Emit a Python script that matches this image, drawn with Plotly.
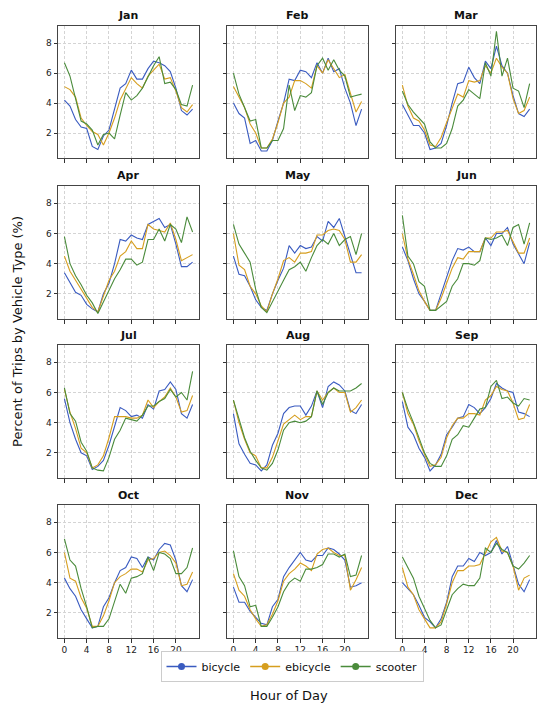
import plotly.graph_objects as go
from plotly.subplots import make_subplots

# hours and months
hours = list(range(24))
months = ["Jan", "Feb", "Mar", "Apr", "May", "Jun",
          "Jul", "Aug", "Sep", "Oct", "Nov", "Dec"]
vehicles = ["bicycle", "ebicycle", "scooter"]

# percent of trips per hour
bicycle = {
    "Jan": [4.2, 3.8, 2.9, 2.4, 2.3, 1.1, 0.9, 1.8, 2.2, 3.6, 5.0, 5.3, 6.2, 5.6, 5.6, 6.3, 6.8, 6.7, 6.5, 6.1, 5.0, 3.5, 3.2, 3.6],
    "Feb": [4.0, 3.3, 3.0, 1.3, 1.5, 0.8, 0.8, 1.5, 2.8, 4.0, 5.6, 5.5, 6.2, 6.1, 5.7, 6.7, 6.0, 7.0, 6.1, 6.3, 5.0, 4.0, 2.5, 3.6],
    "Mar": [3.9, 3.2, 2.5, 2.5, 2.0, 0.9, 1.0, 1.3, 2.5, 4.0, 5.3, 5.4, 6.4, 5.7, 5.3, 6.8, 6.3, 7.8, 6.5, 6.0, 4.5, 3.3, 3.1, 3.6],
    "Apr": [3.4, 2.7, 2.1, 1.9, 1.3, 1.0, 0.8, 2.0, 2.7, 4.0, 5.6, 5.5, 5.9, 5.7, 5.6, 6.6, 6.8, 7.0, 6.4, 6.6, 5.3, 3.8, 3.8, 4.1],
    "May": [4.5, 3.3, 3.2, 2.5, 1.6, 1.1, 0.9, 2.0, 2.9, 3.7, 5.2, 4.7, 5.2, 5.0, 5.1, 5.8, 5.5, 6.8, 6.4, 7.0, 5.8, 4.6, 3.4, 3.4],
    "Jun": [5.1, 4.2, 3.0, 2.0, 1.5, 0.9, 0.9, 2.0, 3.0, 4.2, 5.0, 4.9, 5.1, 4.8, 4.8, 5.7, 5.2, 6.0, 6.0, 6.4, 5.3, 4.6, 4.0, 5.4],
    "Jul": [5.6, 4.0, 2.9, 2.0, 1.8, 0.9, 1.1, 1.5, 2.5, 3.8, 5.0, 4.8, 4.4, 4.5, 4.3, 5.2, 4.9, 6.1, 6.2, 6.7, 6.2, 4.6, 4.3, 5.2],
    "Aug": [4.6, 2.6, 1.9, 1.3, 1.2, 0.8, 1.2, 2.5, 3.3, 4.6, 5.0, 5.1, 5.1, 4.5, 5.1, 6.1, 5.0, 6.4, 6.7, 6.5, 6.1, 4.8, 4.6, 5.2],
    "Sep": [5.4, 3.7, 3.2, 2.3, 1.7, 0.8, 1.2, 1.9, 3.2, 3.7, 4.3, 4.4, 5.2, 5.0, 4.6, 5.0, 5.6, 6.6, 6.3, 6.1, 6.0, 4.7, 4.6, 4.4],
    "Oct": [4.3, 3.6, 3.1, 2.2, 1.6, 1.0, 1.1, 2.4, 3.0, 4.0, 4.8, 5.0, 5.7, 5.6, 5.0, 5.7, 5.5, 6.2, 6.6, 6.5, 5.5, 3.8, 3.4, 4.2],
    "Nov": [3.7, 2.7, 2.7, 2.1, 1.7, 1.3, 1.2, 2.4, 2.9, 4.4, 5.0, 5.5, 6.0, 5.5, 5.4, 5.8, 5.8, 6.3, 6.2, 5.9, 5.5, 3.7, 3.8, 4.0],
    "Dec": [4.0, 3.6, 3.2, 2.5, 1.7, 1.4, 1.0, 1.6, 2.7, 4.4, 5.1, 5.1, 5.6, 5.4, 6.0, 5.8, 6.0, 6.8, 5.9, 6.4, 5.2, 3.9, 3.4, 4.2],
}
ebicycle = {
    "Jan": [5.1, 4.9, 4.4, 3.0, 2.5, 2.1, 1.9, 1.2, 2.0, 3.0, 4.2, 5.0, 5.7, 5.3, 5.0, 5.8, 6.2, 6.6, 5.6, 5.7, 4.8, 3.7, 3.4, 3.9],
    "Feb": [5.1, 4.4, 3.7, 2.6, 2.0, 1.0, 1.0, 1.6, 2.7, 4.0, 4.4, 5.5, 5.5, 5.3, 5.0, 6.5, 6.0, 6.9, 6.3, 5.7, 5.9, 4.6, 3.4, 4.1],
    "Mar": [5.2, 3.8, 3.0, 2.8, 2.2, 1.2, 1.1, 1.7, 2.7, 3.7, 4.6, 4.4, 5.5, 5.4, 5.5, 6.5, 6.0, 7.0, 6.4, 6.0, 4.3, 3.3, 3.5, 4.4],
    "Apr": [4.5, 3.5, 2.9, 2.3, 1.7, 1.1, 0.8, 1.8, 2.9, 3.5, 4.5, 4.8, 5.5, 5.0, 5.0, 6.6, 6.3, 6.2, 6.1, 6.7, 5.6, 4.2, 4.4, 4.6],
    "May": [6.0, 3.9, 3.6, 2.5, 2.0, 1.2, 0.8, 2.0, 3.0, 4.2, 4.4, 4.1, 4.7, 4.7, 4.8, 5.9, 5.9, 6.2, 6.3, 6.2, 5.6, 4.1, 4.1, 4.6],
    "Jun": [6.0, 4.3, 3.3, 2.2, 1.5, 0.9, 0.9, 1.7, 2.7, 3.7, 4.4, 4.3, 4.8, 4.8, 4.8, 5.7, 5.7, 6.1, 6.1, 6.2, 5.4, 4.7, 4.7, 5.7],
    "Jul": [6.2, 4.7, 3.6, 2.3, 2.0, 1.0, 1.2, 1.8, 3.0, 4.4, 4.4, 4.4, 4.3, 4.3, 4.5, 5.5, 5.0, 5.4, 5.7, 6.3, 5.7, 4.7, 4.8, 5.8],
    "Aug": [5.5, 4.0, 2.9, 2.0, 1.8, 1.0, 1.0, 1.7, 2.8, 3.9, 4.2, 4.5, 4.2, 4.4, 4.4, 6.1, 5.5, 6.0, 6.3, 6.0, 6.0, 4.7, 5.0, 5.5],
    "Sep": [6.0, 4.6, 3.9, 2.8, 1.9, 1.1, 1.2, 1.7, 3.0, 3.8, 4.3, 4.3, 4.6, 4.6, 4.5, 5.5, 5.8, 6.4, 6.2, 6.1, 5.3, 4.2, 4.3, 5.2],
    "Oct": [6.0, 4.3, 4.1, 3.0, 2.3, 1.1, 1.1, 1.8, 2.8, 4.0, 4.4, 4.6, 4.9, 4.9, 4.7, 5.5, 5.6, 6.0, 6.1, 5.8, 5.3, 3.8, 3.9, 4.7],
    "Nov": [4.6, 3.5, 3.1, 2.2, 1.6, 1.1, 1.2, 1.9, 2.8, 4.1, 4.6, 4.9, 5.3, 5.1, 4.8, 5.9, 6.2, 6.3, 6.0, 5.8, 5.8, 3.5, 4.2, 5.0],
    "Dec": [5.0, 3.7, 3.2, 2.2, 1.6, 1.0, 1.0, 1.4, 2.6, 4.0, 4.8, 4.8, 5.1, 5.1, 5.2, 6.0, 6.7, 7.0, 6.1, 6.0, 5.1, 3.5, 4.3, 4.5],
}
scooter = {
    "Jan": [6.7, 5.8, 4.3, 2.8, 2.6, 2.2, 1.2, 1.9, 2.0, 1.6, 3.2, 4.7, 4.2, 4.5, 5.0, 5.8, 6.5, 7.1, 5.3, 5.4, 4.9, 3.9, 3.8, 5.2],
    "Feb": [6.0, 4.6, 3.7, 2.8, 2.9, 1.0, 1.0, 1.5, 1.5, 2.3, 5.2, 3.5, 4.5, 4.4, 4.7, 6.5, 7.0, 6.2, 6.9, 6.2, 5.8, 4.4, 4.5, 4.6],
    "Mar": [4.8, 3.9, 3.4, 3.0, 2.6, 1.4, 1.0, 1.0, 1.3, 2.3, 3.8, 4.2, 4.9, 4.6, 4.3, 6.7, 5.8, 8.8, 5.8, 7.0, 5.0, 4.8, 3.7, 5.3],
    "Apr": [5.8, 4.0, 3.2, 2.6, 1.9, 1.4, 0.7, 1.5, 2.3, 3.0, 3.6, 4.3, 4.3, 3.9, 4.1, 5.6, 5.6, 6.3, 5.5, 6.6, 6.3, 5.4, 7.1, 6.1],
    "May": [6.6, 5.3, 4.7, 4.1, 2.3, 1.1, 0.75, 1.5, 2.2, 2.9, 3.6, 3.8, 4.1, 3.5, 4.4, 5.2, 5.6, 5.3, 6.0, 5.2, 5.6, 5.8, 4.6, 6.0],
    "Jun": [7.2, 4.5, 4.0, 2.8, 2.5, 0.9, 0.9, 1.2, 1.5, 2.5, 3.0, 4.0, 4.0, 3.9, 4.2, 5.7, 5.6, 5.7, 5.9, 5.2, 6.4, 6.6, 5.3, 6.7],
    "Jul": [6.3, 4.6, 4.1, 2.7, 2.1, 1.0, 0.85, 0.8, 1.7, 2.9, 3.5, 4.3, 4.2, 4.1, 4.5, 5.1, 5.1, 5.4, 5.6, 6.2, 5.7, 6.0, 5.5, 7.4],
    "Aug": [5.5, 4.2, 3.0, 2.1, 1.5, 1.0, 0.85, 1.3, 2.2, 3.5, 4.0, 4.1, 4.0, 4.1, 4.4, 6.1, 5.2, 6.0, 6.3, 6.1, 6.1, 6.1, 6.3, 6.6],
    "Sep": [6.0, 4.9, 4.0, 3.0, 2.0, 1.3, 1.1, 1.1, 1.8, 2.9, 3.2, 3.8, 3.7, 4.3, 4.9, 5.0, 6.4, 6.8, 5.6, 5.7, 5.3, 5.1, 5.6, 5.5],
    "Oct": [6.9, 5.5, 5.1, 3.6, 2.4, 1.0, 1.1, 1.1, 1.6, 2.7, 3.9, 3.3, 4.3, 4.4, 4.6, 5.7, 4.8, 6.0, 5.9, 5.6, 4.6, 4.6, 5.0, 6.3],
    "Nov": [6.1, 4.4, 3.8, 2.4, 2.5, 1.1, 1.1, 1.7, 2.4, 3.4, 4.0, 4.3, 4.1, 4.9, 4.9, 5.0, 5.2, 5.9, 5.9, 5.7, 5.9, 4.4, 4.5, 5.8],
    "Dec": [5.7, 5.0, 4.3, 3.1, 2.3, 1.5, 1.0, 1.2, 2.2, 3.2, 3.6, 3.9, 3.8, 3.8, 4.3, 6.3, 6.0, 6.6, 6.2, 6.0, 5.1, 4.9, 5.3, 5.8],
}

colors = {"bicycle": "#3a5bc0", "ebicycle": "#d69e1e", "scooter": "#4a8b3b"}
series = {"bicycle": bicycle, "ebicycle": ebicycle, "scooter": scooter}

# page body has an 8px margin, so the figure is a bit smaller than the window
PAD = 8
W, H = 550 - PAD, 707 - PAD
col_px = [(58, 199), (227, 368), (396, 536)]
row_px = [(26, 158), (186, 319), (345, 478), (505, 638)]


def px(x):
    return (x - PAD) / W


def py(y):
    return 1 - (y - PAD) / H


fig = make_subplots(rows=4, cols=3)

for i, m in enumerate(months):
    r, c = i // 3 + 1, i % 3 + 1
    for v in vehicles:
        fig.add_trace(go.Scatter(x=hours, y=series[v][m], mode="lines",
                                 line=dict(color=colors[v], width=1.1),
                                 name=v, showlegend=False, hoverinfo="skip"),
                      row=r, col=c)

# legend entries with markers like the original
for v in vehicles:
    fig.add_trace(go.Scatter(x=[None], y=[None], mode="lines+markers",
                             line=dict(color=colors[v], width=1.5),
                             marker=dict(size=7, color=colors[v]),
                             name=v), row=4, col=2)

axis_font = dict(family="DejaVu Sans", size=9, color="#222")
for i, m in enumerate(months):
    r, c = i // 3 + 1, i % 3 + 1
    x0, x1 = col_px[c - 1]
    y0, y1 = row_px[r - 1]
    fig.update_xaxes(domain=[px(x0), px(x1)], range=[-1.15, 24.15],
                     tickvals=[0, 4, 8, 12, 16, 20], showticklabels=(r == 4),
                     ticks="outside", ticklen=3.5, tickcolor="#333",
                     showgrid=True, gridcolor="#d4d4d4", griddash="3px,2px", gridwidth=0.8,
                     showline=True, linecolor="#444", linewidth=1, mirror=True,
                     zeroline=False, tickfont=axis_font, row=r, col=c)
    fig.update_yaxes(domain=[py(y1), py(y0)], range=[0.33, 9.15],
                     tickvals=[2, 4, 6, 8], showticklabels=(c == 1),
                     ticks="outside", ticklen=3.5, tickcolor="#333",
                     showgrid=True, gridcolor="#d4d4d4", griddash="3px,2px", gridwidth=0.8,
                     showline=True, linecolor="#444", linewidth=1, mirror=True,
                     zeroline=False, tickfont=axis_font, row=r, col=c)
    fig.add_annotation(text="<b>" + m + "</b>", x=px((x0 + x1) / 2), y=py(y0 - 10),
                       xref="paper", yref="paper", xanchor="center", yanchor="middle",
                       showarrow=False, font=dict(family="DejaVu Sans", size=11, color="#111"))

fig.add_annotation(text="Percent of Trips by Vehicle Type (%)", textangle=-90,
                   x=px(17), y=py(332), xref="paper", yref="paper",
                   xanchor="center", yanchor="middle",
                   showarrow=False, font=dict(family="DejaVu Sans", size=13, color="#111"))
fig.add_annotation(text="Hour of Day", x=px(289), y=py(695), xref="paper", yref="paper",
                   xanchor="center", yanchor="middle",
                   showarrow=False, font=dict(family="DejaVu Sans", size=13, color="#111"))

fig.update_layout(
    width=W, height=H,
    margin=dict(l=0, r=0, t=0, b=0),
    plot_bgcolor="white", paper_bgcolor="white",
    legend=dict(orientation="h", x=px(292), y=py(651), xanchor="center", yanchor="top",
                bordercolor="#cccccc", borderwidth=1, bgcolor="white",
                font=dict(family="DejaVu Sans", size=11, color="#111"),
                itemwidth=30, tracegroupgap=0),
)

fig.write_html("out.html")
